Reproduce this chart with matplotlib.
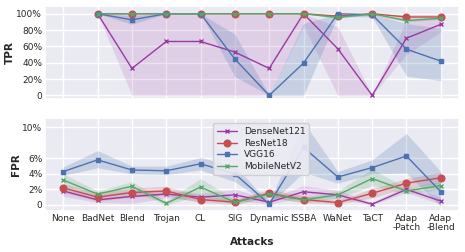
import numpy as np
import matplotlib
matplotlib.use("Agg")
import matplotlib.pyplot as plt
import seaborn as sns

sns.set_theme(style="darkgrid")
plt.rcParams['font.family'] = ['DejaVu Sans']

attacks = ["None", "BadNet", "Blend", "Trojan", "CL", "SIG", "Dynamic", "ISSBA",
           "WaNet", "TaCT", "Adap\n-Patch", "Adap\n-Blend"]
models = ["DenseNet121", "ResNet18", "VGG16", "MobileNetV2"]

nan = np.nan
# TPR (%), no value for "None"
tpr_dense = [nan, 100, 33, 66, 66, 53, 33, 100, 57, 0, 70, 87]
tpr_dense_lo = [nan, 100, 0, 0, 0, 0, 0, 85, 0, 0, 50, 78]
tpr_dense_hi = [nan, 100, 100, 100, 100, 100, 100, 100, 84, 0, 92, 95]
tpr_res = [nan, 100, 100, 100, 100, 100, 100, 100, 97, 100, 96, 96]
tpr_res_lo = [nan, 100, 100, 100, 100, 100, 100, 100, 95, 99, 93, 94]
tpr_res_hi = [nan, 100, 100, 100, 100, 100, 100, 100, 99, 100, 99, 99]
tpr_vgg = [nan, 100, 92.5, 100, 100, 44.5, 0, 39.5, 100, 98.7, 56.5, 42]
tpr_vgg_lo = [nan, 100, 87, 100, 100, 23, 0, 0, 97, 96, 23.5, 18]
tpr_vgg_hi = [nan, 100, 98, 100, 100, 75, 0, 88, 100, 100, 88, 82]
tpr_mob = [nan, 100, 100, 100, 100, 100, 100, 100, 95.5, 100, 91.5, 94.5]
tpr_mob_lo = [nan, 100, 100, 100, 100, 100, 100, 100, 94, 99, 90, 93]
tpr_mob_hi = [nan, 100, 100, 100, 100, 100, 100, 100, 97, 100, 93, 96]

# FPR (%)
fpr_dense = [1.8, 0.65, 1.1, 1.4, 1.0, 1.3, 0.35, 1.7, 1.3, 0.1, 2.0, 0.5]
fpr_dense_lo = [1.1, 0.3, 0.2, 0.9, 0.5, 0.6, 0.1, 1.0, 0.8, 0.0, 1.6, 0.1]
fpr_dense_hi = [2.4, 1.1, 1.9, 1.9, 1.5, 2.0, 0.8, 2.5, 1.9, 0.3, 2.5, 1.0]
fpr_res = [2.2, 1.0, 1.6, 1.8, 0.7, 0.35, 1.5, 0.7, 0.3, 1.5, 2.8, 3.5]
fpr_res_lo = [1.6, 0.5, 1.0, 1.2, 0.3, 0.1, 1.0, 0.3, 0.1, 0.9, 2.2, 2.8]
fpr_res_hi = [2.7, 1.6, 2.2, 2.4, 1.2, 0.7, 2.0, 1.2, 0.6, 2.1, 3.4, 4.2]
fpr_vgg = [4.3, 5.8, 4.5, 4.4, 5.3, 4.0, 0.1, 7.4, 3.6, 4.8, 6.3, 1.7]
fpr_vgg_lo = [3.8, 4.8, 4.0, 3.9, 4.5, 3.0, 0.0, 4.2, 2.8, 4.0, 4.1, -0.2]
fpr_vgg_hi = [4.9, 7.0, 5.0, 5.0, 6.1, 5.0, 0.3, 10.7, 4.3, 5.8, 9.2, 4.3]
fpr_mob = [3.2, 1.4, 2.4, 0.2, 2.3, 0.35, 1.4, 0.65, 1.3, 3.4, 1.8, 2.5]
fpr_mob_lo = [2.5, 1.0, 1.8, 0.0, 1.3, 0.0, 1.0, 0.3, 0.8, 2.5, 1.4, 2.0]
fpr_mob_hi = [4.0, 1.8, 3.0, 0.5, 3.4, 0.7, 1.8, 1.0, 1.8, 4.6, 2.2, 3.0]

colors = ["#9b3aa3", "#c44e52", "#4c72b0", "#55a868"]
markers = ["x", "o", "s", "x"]
msizes = [2.5, 4.8, 2.5, 2.5]
fill_alpha = [0.15, 0.2, 0.22, 0.2]

tpr = [(tpr_dense, tpr_dense_lo, tpr_dense_hi), (tpr_res, tpr_res_lo, tpr_res_hi),
       (tpr_vgg, tpr_vgg_lo, tpr_vgg_hi), (tpr_mob, tpr_mob_lo, tpr_mob_hi)]
fpr = [(fpr_dense, fpr_dense_lo, fpr_dense_hi), (fpr_res, fpr_res_lo, fpr_res_hi),
       (fpr_vgg, fpr_vgg_lo, fpr_vgg_hi), (fpr_mob, fpr_mob_lo, fpr_mob_hi)]

x = np.arange(len(attacks))

fig = plt.figure(figsize=(4.65, 2.52), dpi=100)
ax1 = fig.add_axes([0.097, 0.607, 0.890, 0.369])
ax2 = fig.add_axes([0.097, 0.163, 0.890, 0.369])

for ax, data in [(ax1, tpr), (ax2, fpr)]:
    for i, (m, lo, hi) in enumerate(data):
        ax.fill_between(x, lo, hi, color=colors[i], alpha=fill_alpha[i], linewidth=0)
        ax.plot(x, m, color=colors[i], marker=markers[i], markersize=msizes[i],
                linewidth=1.0, label=models[i])

ax1.set_xlim(-0.53, 11.53)
ax2.set_xlim(-0.53, 11.53)
ax1.set_ylim(-4.5, 109.4)
ax2.set_ylim(-0.77, 11.2)

ax1.set_xticks(x)
ax1.set_xticklabels([])
ax1.set_yticks([0, 20, 40, 60, 80, 100])
ax1.set_yticklabels(["0", "20%", "40%", "60%", "80%", "100%"], fontsize=6.5)
ax1.set_ylabel("TPR", fontsize=7.5, fontweight="bold", labelpad=1)

ax2.set_xticks(x)
ax2.set_xticklabels(attacks, fontsize=6.5, linespacing=1.0)
ax2.set_yticks([0, 2, 4, 6, 10])
ax2.set_yticklabels(["0", "2%", "4%", "6%", "10%"], fontsize=6.5)
ax2.set_ylabel("FPR", fontsize=7.5, fontweight="bold", labelpad=1)
ax2.set_xlabel("Attacks", fontsize=7.5, fontweight="bold", labelpad=4)

for ax in (ax1, ax2):
    ax.tick_params(axis="both", pad=2, length=0)

ax2.legend(loc="upper left", bbox_to_anchor=(0.395, 0.99), fontsize=6.5,
           handlelength=2.2, labelspacing=0.3, borderpad=0.4, framealpha=0.9)

fig.savefig("out.png", dpi=100)
